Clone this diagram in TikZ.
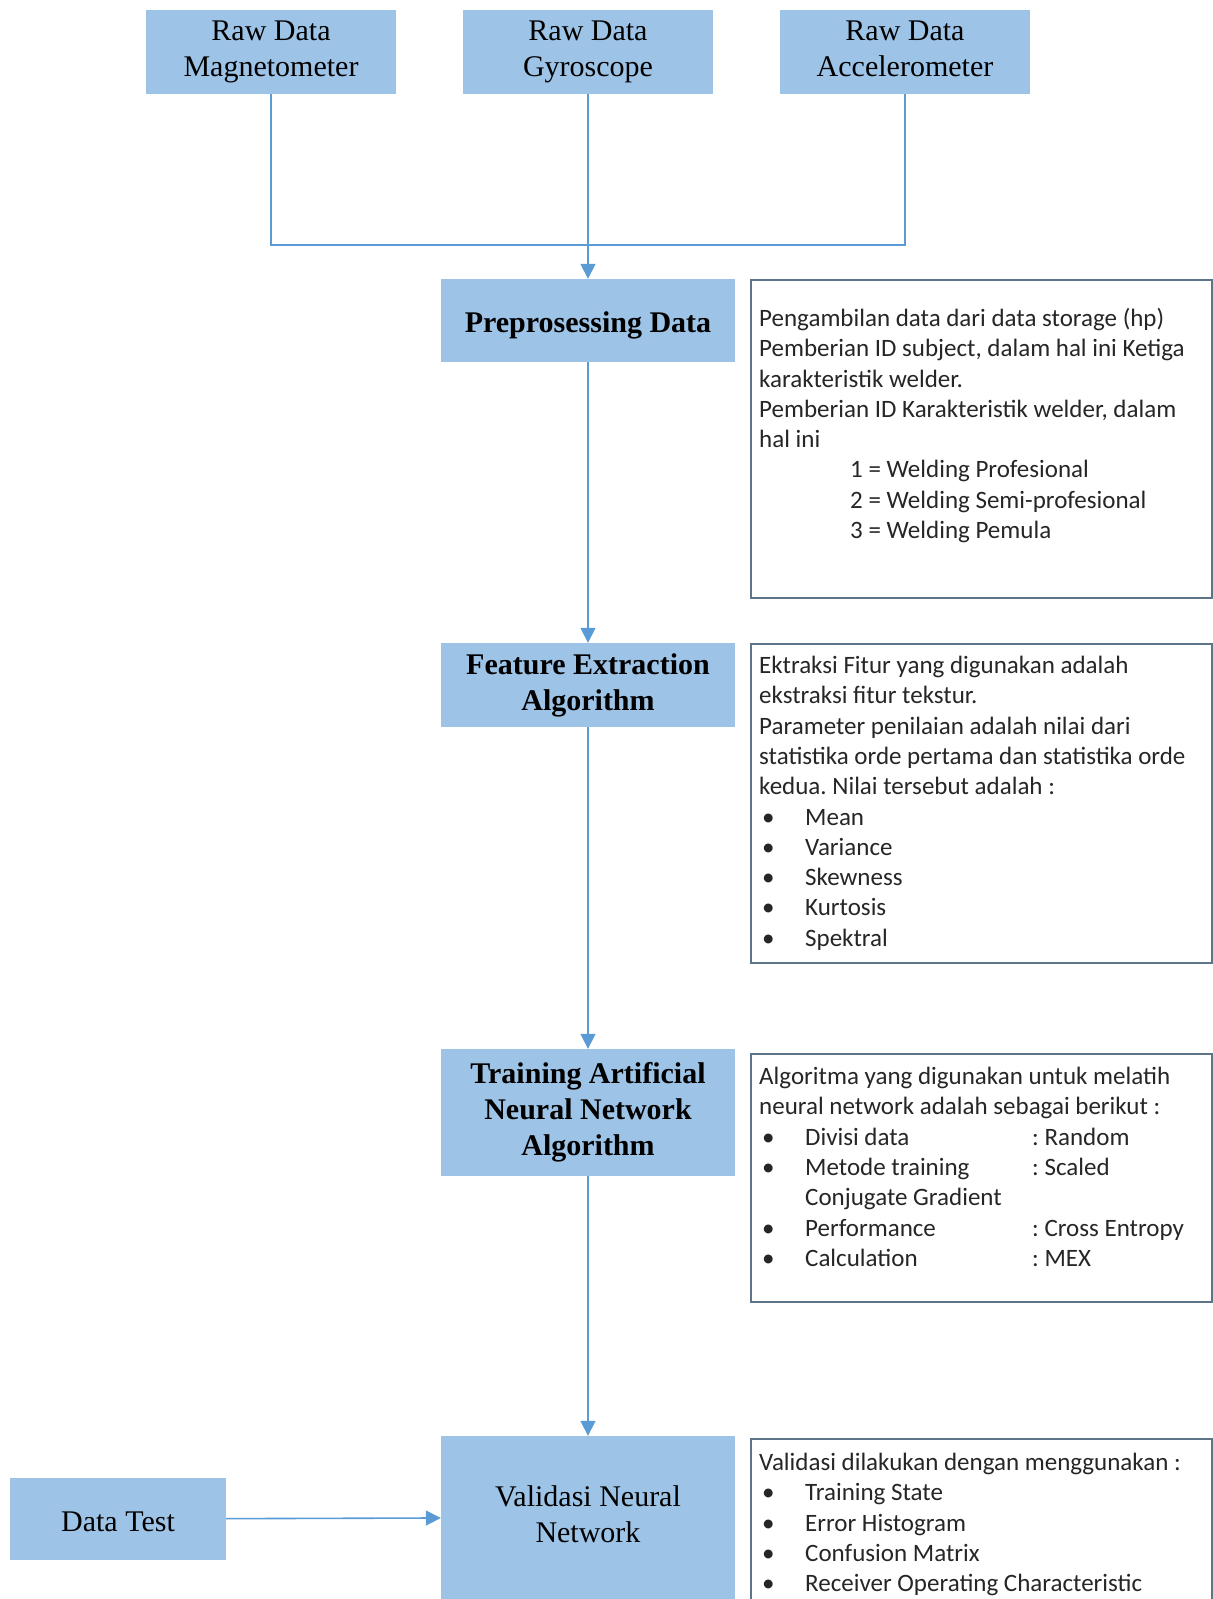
\documentclass[tikz,border=0pt]{standalone}
\usepackage{fontspec}
\setmainfont{Liberation Serif}
\newfontfamily\descfont{Carlito}
\usetikzlibrary{arrows.meta}
\frenchspacing

\definecolor{boxblue}{HTML}{9DC3E6}
\definecolor{lineblue}{HTML}{5B9BD5}
\definecolor{framegray}{HTML}{5E7488}

\tikzset{
  stepbox/.style={fill=boxblue, draw=none, align=center, inner sep=0pt,
    font=\fontsize{30}{36}\selectfont,
    execute at begin node={\rule{0pt}{31pt}},
    execute at end node={\rule[-6pt]{0pt}{6pt}}},
  bold/.style={font=\fontsize{30}{36}\selectfont\bfseries},
  descbox/.style={draw=framegray, line width=1.5pt, fill=white, inner sep=0pt,
    minimum width=461pt, anchor=north west},
  desctext/.style={anchor=north west, inner sep=0pt, align=left,
    text=black!85, font=\descfont\fontsize{25}{30.3}\selectfont},
  link/.style={draw=lineblue, line width=1.6pt},
  arrow/.style={link, -{Triangle[width=15pt,length=15pt]}},
}
\newcommand{\bul}[1]{\hspace*{3pt}\makebox[43pt][l]{\textbullet}#1}
\newcommand{\bulcol}[2]{\hspace*{3pt}\makebox[43pt][l]{\textbullet}\makebox[227pt][l]{#1}#2}

\begin{document}
\begin{tikzpicture}[x=1pt, y=-1pt]
  \useasboundingbox (0,0) rectangle (1213,1599);

  % sensor inputs
  \node[stepbox, minimum width=250pt, minimum height=84pt] (mag) at (271,52) {Raw Data\\Magnetometer};
  \node[stepbox, minimum width=250pt, minimum height=84pt] (gyro) at (588,52) {Raw Data\\Gyroscope};
  \node[stepbox, minimum width=250pt, minimum height=84pt] (acc) at (905,52) {Raw Data\\Accelerometer};
  \coordinate (join) at (588,245);

  % main flow
  \node[stepbox, bold, minimum width=294pt, minimum height=83pt] (pre) at (588,320.5) {Preprosessing Data};
  \node[stepbox, bold, minimum width=294pt, minimum height=84pt] (feat) at (588,685) {Feature Extraction\\Algorithm};
  \node[stepbox, bold, minimum width=294pt, minimum height=127pt] (train) at (588,1112.5) {Training Artificial\\Neural Network\\Algorithm};
  \node[stepbox, minimum width=294pt, minimum height=163pt] (valid) at (588,1517.5) {Validasi Neural\\Network};
  \node[stepbox, minimum width=216pt, minimum height=82pt] (test) at (118,1519) {Data Test};

  \draw[link] (mag.south) |- (join) -| (acc.south);
  \draw[arrow] (gyro) -- (pre);
  \draw[arrow] (pre) -- (feat);
  \draw[arrow] (feat) -- (train);
  \draw[arrow] (train) -- (valid);
  \draw[arrow] (test) -- (valid);

  % notes beside each step
  \node[descbox, minimum height=318pt] (d1) at (750,279) {};
  \node[desctext] (t1) at (759,308) {Pengambilan data dari data storage (hp)\\
    Pemberian ID subject, dalam hal ini Ketiga\\
    karakteristik welder.\\
    Pemberian ID Karakteristik welder, dalam\\
    hal ini\\
    \hspace*{91pt}1 = Welding Profesional\\
    \hspace*{91pt}2 = Welding Semi-profesional\\
    \hspace*{91pt}3 = Welding Pemula};

  \node[descbox, minimum height=319pt] (d2) at (750,643) {};
  \node[desctext] (t2) at (759,656) {Ektraksi Fitur yang digunakan adalah\\
    ekstraksi fitur tekstur.\\
    Parameter penilaian adalah nilai dari\\
    statistika orde pertama dan statistika orde\\
    kedua. Nilai tersebut adalah :\\
    \bul{Mean}\\
    \bul{Variance}\\
    \bul{Skewness}\\
    \bul{Kurtosis}\\
    \bul{Spektral}};

  \node[descbox, minimum height=248pt] (d3) at (750,1053) {};
  \node[desctext] (t3) at (759,1067) {Algoritma yang digunakan untuk melatih\\
    neural network adalah sebagai berikut :\\
    \bulcol{Divisi data}{: Random}\\
    \bulcol{Metode training}{: Scaled}\\
    \hspace*{46pt}Conjugate Gradient\\
    \bulcol{Performance}{: Cross Entropy}\\
    \bulcol{Calculation}{: MEX}};

  \node[descbox, minimum height=170pt] (d4) at (750,1438) {};
  \node[desctext] (t4) at (759,1453) {Validasi dilakukan dengan menggunakan :\\
    \bul{Training State}\\
    \bul{Error Histogram}\\
    \bul{Confusion Matrix}\\
    \bul{Receiver Operating Characteristic}};
\end{tikzpicture}
\end{document}
